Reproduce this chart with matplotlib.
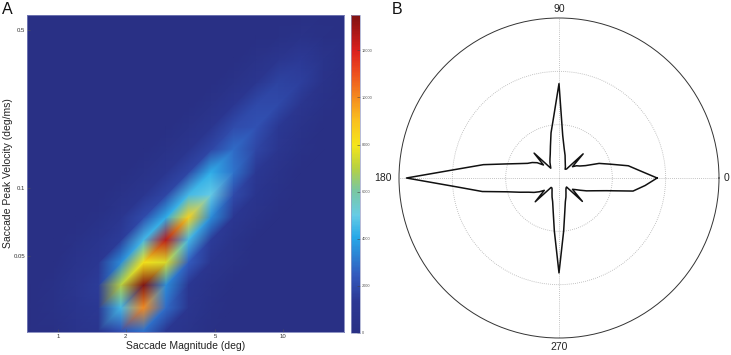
import numpy as np
import matplotlib
matplotlib.use("Agg")
import matplotlib.pyplot as plt
import matplotlib.tri as mtri
from matplotlib.colors import LinearSegmentedColormap, Normalize
from matplotlib.ticker import FixedLocator, FixedFormatter

plt.rcParams['font.family'] = ['Liberation Sans', 'DejaVu Sans']

# ---------------- Panel A data: 2D histogram (grid node centres) ----------------
magnitude_deg = [0.603, 0.759, 0.955, 1.202, 1.514, 1.905, 2.399, 3.020,
                 3.802, 4.786, 6.026, 7.586, 9.550, 12.02, 15.14, 19.05]
peak_velocity = [0.0186, 0.0234, 0.0295, 0.0372, 0.0468, 0.0589, 0.0741, 0.0933,
                 0.1175, 0.1479, 0.1862, 0.2344, 0.2951, 0.3715, 0.4677, 0.5888]
# counts[row = velocity index][col = magnitude index]
counts = [
    [0, 0, 0, 600, 900, 1800, 2500, 1000, 500, 0, 0, 0, 0, 0, 0, 0],
    [0, 0, 200, 700, 1000, 2200, 3000, 1200, 600, 200, 0, 0, 0, 0, 0, 0],
    [0, 0, 300, 800, 1300, 4500, 10000, 2800, 900, 300, 0, 0, 0, 0, 0, 0],
    [0, 0, 300, 900, 1500, 7000, 13500, 3500, 1200, 500, 0, 0, 0, 0, 0, 0],
    [0, 0, 0, 700, 1200, 3500, 8000, 7500, 2500, 900, 400, 0, 0, 0, 0, 0],
    [0, 0, 0, 300, 800, 1500, 4500, 12500, 4500, 1500, 600, 0, 0, 0, 0, 0],
    [0, 0, 0, 0, 300, 900, 2000, 4200, 8500, 3500, 1200, 500, 0, 0, 0, 0],
    [0, 0, 0, 0, 0, 400, 900, 1800, 4500, 5000, 2000, 800, 300, 0, 0, 0],
    [0, 0, 0, 0, 0, 0, 400, 900, 1800, 4200, 3000, 1300, 500, 0, 0, 0],
    [0, 0, 0, 0, 0, 0, 0, 400, 900, 1800, 2800, 1800, 900, 300, 0, 0],
    [0, 0, 0, 0, 0, 0, 0, 0, 400, 1000, 2000, 2200, 1300, 500, 0, 0],
    [0, 0, 0, 0, 0, 0, 0, 0, 0, 400, 1100, 1900, 1900, 1000, 300, 0],
    [0, 0, 0, 0, 0, 0, 0, 0, 0, 0, 400, 1000, 1700, 1600, 500, 0],
    [0, 0, 0, 0, 0, 0, 0, 0, 0, 0, 0, 400, 900, 1400, 600, 0],
    [0, 0, 0, 0, 0, 0, 0, 0, 0, 0, 0, 0, 200, 400, 200, 0],
    [0, 0, 0, 0, 0, 0, 0, 0, 0, 0, 0, 0, 0, 0, 0, 0],
]
x_ticks = [1, 2, 5, 10]
x_ticklabels = ['1', '2', '5', '10']
y_ticks = [0.05, 0.1, 0.5]
y_ticklabels = ['0.05', '0.1', '0.5']
x_limits = [0.728, 18.66]
y_limits = [0.0230, 0.582]
cbar_ticks = [0, 2000, 4000, 6000, 8000, 10000, 12000]

# ---------------- Panel B data: saccade direction distribution ----------------
direction_deg = list(range(0, 360, 5))
direction_r = [
    1.84, 1.53, 1.32, 1.00, 0.80, 0.55, 0.45, 0.40, 0.33, 0.64, 0.22, 0.20,   # 0-55
    0.24, 0.28, 0.34, 0.44, 0.56, 0.80, 1.77, 1.15, 0.86, 0.62, 0.48, 0.40,   # 60-115
    0.34, 0.28, 0.24, 0.66, 0.38, 0.50, 0.58, 0.65, 0.79, 1.02, 1.44, 1.91,   # 120-175
    2.86, 1.92, 1.46, 1.00, 0.78, 0.63, 0.54, 0.45, 0.36, 0.63, 0.23, 0.23,   # 180-235
    0.26, 0.31, 0.38, 0.46, 0.63, 1.00, 1.78, 1.00, 0.63, 0.46, 0.38, 0.31,   # 240-295
    0.26, 0.23, 0.22, 0.62, 0.33, 0.38, 0.46, 0.57, 0.70, 0.92, 1.41, 1.62,   # 300-355
]
polar_label_angles = [0, 90, 180, 270]
polar_labels = ['0', '90', '180', '270']

# ---------------- Figure ----------------
W, H = 731, 355
fig = plt.figure(figsize=(W / 100, H / 100), dpi=100)

cmap = LinearSegmentedColormap.from_list('washed_jet', [
    (0.00, (0.16, 0.19, 0.52)),
    (0.10, (0.17, 0.22, 0.58)),
    (0.18, (0.20, 0.35, 0.74)),
    (0.30, (0.15, 0.66, 0.91)),
    (0.37, (0.40, 0.80, 0.90)),
    (0.45, (0.48, 0.78, 0.62)),
    (0.52, (0.72, 0.82, 0.25)),
    (0.59, (0.96, 0.90, 0.10)),
    (0.67, (0.98, 0.75, 0.12)),
    (0.74, (0.96, 0.55, 0.12)),
    (0.82, (0.93, 0.30, 0.12)),
    (0.89, (0.86, 0.12, 0.12)),
    (1.00, (0.50, 0.07, 0.07)),
])

# log-log histogram drawn on log10 coordinates (axis labelled in real units)
axA = fig.add_axes([27 / W, (H - 332) / H, 317 / W, 317 / H])
LX, LY = np.meshgrid(np.log10(magnitude_deg), np.log10(peak_velocity))
Z = np.array(counts, dtype=float)
ny, nx = Z.shape
tris = []
for j in range(ny - 1):
    for i in range(nx - 1):
        a = j * nx + i          # lower-left
        b = a + 1               # lower-right
        c = a + nx              # upper-left
        d = c + 1               # upper-right
        # split along the lower-left/upper-right diagonal (direction of the ridge)
        tris.append([a, b, d])
        tris.append([a, d, c])
triang = mtri.Triangulation(LX.ravel(), LY.ravel(), np.array(tris))
mesh = axA.tripcolor(triang, Z.ravel(), shading='gouraud', cmap=cmap,
                     norm=Normalize(0, 13500), rasterized=True)
axA.set_xlim(np.log10(x_limits))
axA.set_ylim(np.log10(y_limits))
axA.xaxis.set_major_locator(FixedLocator(np.log10(x_ticks)))
axA.xaxis.set_major_formatter(FixedFormatter(x_ticklabels))
axA.yaxis.set_major_locator(FixedLocator(np.log10(y_ticks)))
axA.yaxis.set_major_formatter(FixedFormatter(y_ticklabels))
axA.tick_params(axis='both', direction='in', length=2, width=0.4, colors='#555555',
                labelsize=4.3, labelcolor='#333333', pad=1.2)
for s in axA.spines.values():
    s.set_color('#7a80b8')
    s.set_linewidth(0.6)
axA.set_xlabel('Saccade Magnitude (deg)', fontsize=7.5, color='#222222', labelpad=1.5)
axA.set_ylabel('Saccade Peak Velocity (deg/ms)', fontsize=7.5, color='#222222', labelpad=0.5)

cax = fig.add_axes([351 / W, (H - 333) / H, 9 / W, 318 / H])
cb = fig.colorbar(mesh, cax=cax, ticks=cbar_ticks)
cb.ax.tick_params(direction='in', length=2.5, width=0.4, colors='#444444',
                  labelsize=2.8, labelcolor='#555555', pad=1.5)
cb.outline.set_edgecolor('#9aa0c8')
cb.outline.set_linewidth(0.5)

fig.text(2 / W, 1 - 14 / H, 'A', fontsize=11.5, color='#111111', ha='left', va='baseline')
fig.text(392 / W, 1 - 14 / H, 'B', fontsize=11.5, color='#111111', ha='left', va='baseline')

# ---------------- Panel B: polar ----------------
axB = fig.add_axes([(559 - 160) / W, (H - 178 - 160) / H, 320 / W, 320 / H],
                   projection='polar')
theta = np.deg2rad(direction_deg + [direction_deg[0]])
rr = direction_r + [direction_r[0]]
axB.plot(theta, rr, color='#111111', lw=1.1)
axB.set_ylim(0, 3)
axB.set_yticks([1, 2])
axB.set_yticklabels([])
axB.set_xticks(np.deg2rad(polar_label_angles))
axB.set_xticklabels([])
axB.grid(True, linestyle=(0, (1, 1.5)), color='#b0b0b0', linewidth=0.6)
axB.spines['polar'].set_color('#333333')
axB.spines['polar'].set_linewidth(0.7)
label_r = [3.14, 3.17, 3.3, 3.16]
for ang, lab, rl in zip(polar_label_angles, polar_labels, label_r):
    axB.text(np.deg2rad(ang), rl, lab, fontsize=7.5, color='#222222',
             ha='center', va='center', clip_on=False)

fig.savefig('out.png', dpi=100)
